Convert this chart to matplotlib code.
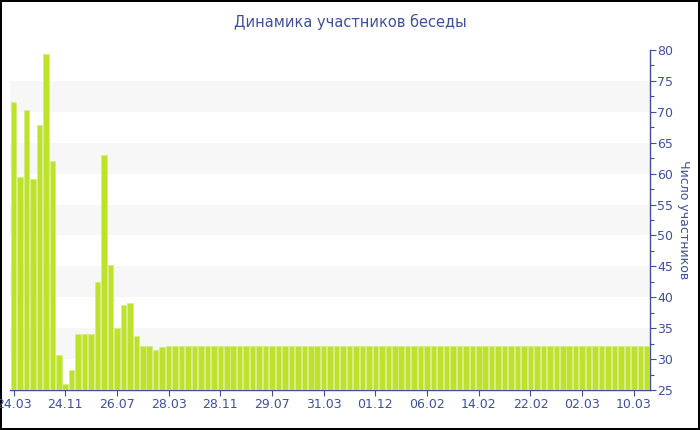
import numpy as np
import matplotlib.pyplot as plt
from matplotlib.ticker import MultipleLocator

# participants per snapshot
head_values = [71.6, 59.5, 70.3, 59.2, 67.8, 79.3, 62.0, 30.7, 26.0, 28.3,
               34.1, 34.1, 34.1, 42.5, 63.0, 45.3, 35.1, 38.75, 39.0, 33.7,
               32.1, 32.1, 31.4, 31.9]
tail_values = [32.1] * 75
values = head_values + tail_values

tick_labels = ["24.03", "24.11", "26.07", "28.03", "28.11", "29.07", "31.03",
               "01.12", "06.02", "14.02", "22.02", "02.03", "10.03"]
tick_step = 8

title = "Динамика участников беседы"
ylabel = "Число участников"

blue = "#3d5199"
bar_color = "#bde22c"

fig = plt.figure(figsize=(7, 4.3), dpi=100)
fig.patch.set_edgecolor("black")
fig.patch.set_linewidth(1.5)
ax = fig.add_axes([10 / 700, 1 - 390 / 430, 640 / 700, 340 / 430])

x = np.arange(len(values))
ax.bar(x, values, width=0.85, color=bar_color, edgecolor="#d6ed85",
       linewidth=0.6, zorder=3)

ax.set_xlim(-0.55, len(values) - 0.5)
ax.set_ylim(25, 80)

# alternating bands
for lo in range(30, 80, 10):
    ax.axhspan(lo, lo + 5, color="#f7f7f7", zorder=0, lw=0)

ax.yaxis.tick_right()
ax.yaxis.set_label_position("right")
ax.yaxis.set_major_locator(MultipleLocator(5))
ax.yaxis.set_minor_locator(MultipleLocator(2.5))
ax.tick_params(axis="y", which="major", length=4, width=0.8, color=blue,
               labelcolor=blue, labelsize=9, pad=1)
ax.tick_params(axis="y", which="minor", length=3, width=0.8, color=blue)
ax.set_ylabel(ylabel, color=blue, fontsize=9, rotation=270, labelpad=12)

tick_pos = np.arange(len(tick_labels)) * tick_step
ax.set_xticks(tick_pos)
ax.set_xticklabels(tick_labels)
ax.tick_params(axis="x", length=4, width=0.8, color=blue, labelcolor=blue,
               labelsize=9, pad=2)

for side in ["top", "left"]:
    ax.spines[side].set_visible(False)
for side in ["bottom", "right"]:
    ax.spines[side].set_color(blue)
    ax.spines[side].set_linewidth(1)
ax.set_facecolor("white")

fig.text(0.5, 1 - 22 / 430, title, color=blue, fontsize=10.5,
         ha="center", va="center")

fig.savefig("out.png", dpi=100)
